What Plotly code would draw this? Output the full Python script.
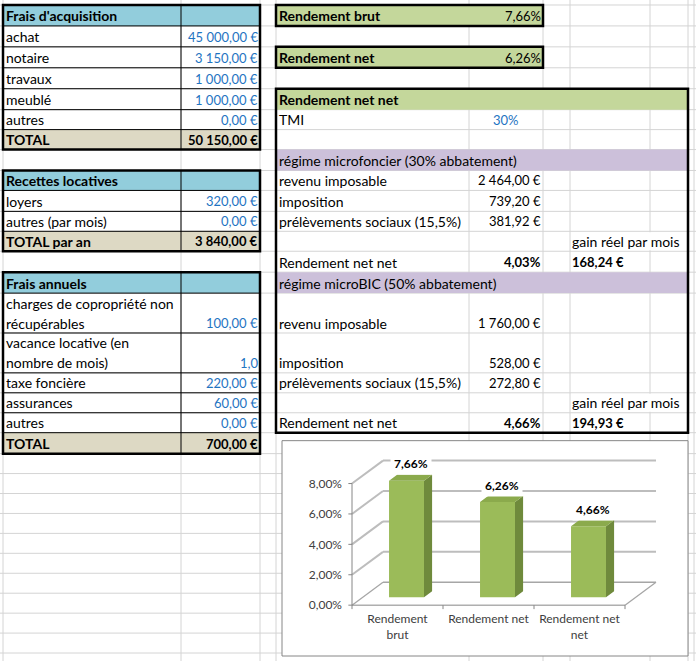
import plotly.graph_objects as go

W, H = 696, 663
FONT = "Lato"
TXT = 14
NUM = 13

# ---- valeurs de la feuille ----
ACQ_TITLE = "Frais d'acquisition"
ACQ_LABELS = ["achat", "notaire", "travaux", "meublé", "autres"]
ACQ_VALUES = [45000.00, 3150.00, 1000.00, 1000.00, 0.00]
ACQ_TOTAL = 50150.00

REC_TITLE = "Recettes locatives"
REC_LABELS = ["loyers", "autres (par mois)"]
REC_VALUES = [320.00, 0.00]
REC_TOTAL = 3840.00

ANN_TITLE = "Frais annuels"
ANN_LABELS = ["charges de copropriété non\nrécupérables", "vacance locative (en\nnombre de mois)",
              "taxe foncière", "assurances", "autres"]
ANN_VALUES = [100.00, 1.0, 220.00, 60.00, 0.00]
ANN_UNITS = ["€", "", "€", "€", "€"]
ANN_TOTAL = 700.00

TMI = 30
REGIME_LABELS = ["revenu imposable", "imposition", "prélèvements sociaux (15,5%)"]
FONCIER_VALUES = [2464.00, 739.20, 381.92]
FONCIER_NETNET = 4.03
FONCIER_GAIN = 168.24
BIC_VALUES = [1760.00, 528.00, 272.80]
BIC_GAIN = 194.93

# ---- valeurs du graphique ----
CATEGORIES = ["Rendement brut", "Rendement net", "Rendement net net"]
TICK_LABELS = ["Rendement<br>brut", "Rendement net", "Rendement net<br>net"]
RENDEMENTS = [7.66, 6.26, 4.66]
Y_TICKS = [0, 2, 4, 6, 8]

# ---- grille de la feuille (pixels) ----
COL_X = [3, 181, 260, 276, 469, 543, 570, 650, 688, 694]
ROW_Y = [5, 26, 47, 68, 89, 110, 130, 150, 171, 191, 212, 232, 252, 273, 294,
         334, 374, 394, 414, 434, 455, 475, 495, 515, 535, 555, 575, 595, 615, 635, 655]

GRID = "#D4D4D4"
BLUE_FILL = "#92CDDC"
TAN_FILL = "#DDD9C4"
GREEN_FILL = "#C4D79B"
PURPLE_FILL = "#CCC0DA"
BLUE_TXT = "#1F74C2"


def euro(v):
    return f"{v:,.2f}".replace(",", "\u00a0").replace(".", ",") + "\u00a0€"


def num(v):
    return f"{v:.1f}".replace(".", ",")


def pct(v, dec=2):
    return f"{v:.{dec}f}%".replace(".", ",")


shapes, annotations = [], []


def px(x):
    return x / W


def py(y):
    return 1 - y / H


def line(x0, y0, x1, y1, color, width=1):
    shapes.append(dict(type="line", xref="paper", yref="paper",
                       x0=px(x0), y0=py(y0), x1=px(x1), y1=py(y1),
                       line=dict(color=color, width=width), layer="below"))


def box(x0, y0, x1, y1, fill=None, color=None, width=0):
    shapes.append(dict(type="rect", xref="paper", yref="paper",
                       x0=px(x0), y0=py(y1), x1=px(x1), y1=py(y0),
                       fillcolor=fill or "rgba(0,0,0,0)",
                       line=dict(color=color or "rgba(0,0,0,0)", width=width),
                       layer="below"))


def text(s, x, y_bottom, anchor="left", bold=False, color="black", up=0, size=TXT):
    annotations.append(dict(xref="paper", yref="paper", x=px(x), y=py(y_bottom - 10 - up),
                            text=f"<b>{s}</b>" if bold else s, showarrow=False,
                            xanchor=anchor, yanchor="middle", borderpad=0, borderwidth=0,
                            font=dict(family=FONT, size=size, color=color)))


# quadrillage excel
for x in COL_X:
    line(x, 0, x, H, GRID)
for y in ROW_Y:
    line(0, y, W, y, GRID)


def left_table(r0, title, labels, values, units, total_label, total_value):
    n = len(labels)
    top, bottom = ROW_Y[r0], ROW_Y[r0 + n + 2]
    box(3, top, 260, ROW_Y[r0 + 1], BLUE_FILL)
    box(3, ROW_Y[r0 + n + 1], 260, bottom, TAN_FILL)
    for k in range(r0 + 1, r0 + n + 2):
        line(3, ROW_Y[k], 260, ROW_Y[k], "black", 1)
    line(181, top, 181, bottom, "black", 1)
    box(3, top, 260, bottom, None, "black", 2.5)
    text(title, 6, ROW_Y[r0 + 1], bold=True)
    for i, (lab, val, unit) in enumerate(zip(labels, values, units)):
        yb = ROW_Y[r0 + 2 + i]
        for j, part in enumerate(reversed(lab.split("\n"))):
            text(part, 6, yb, up=20 * j)
        text(euro(val) if unit == "€" else num(val), 258, yb, anchor="right",
             color=BLUE_TXT, size=NUM)
    text(total_label, 6, bottom, bold=True)
    text(euro(total_value), 258, bottom, anchor="right", bold=True, size=NUM)


left_table(0, ACQ_TITLE, ACQ_LABELS, ACQ_VALUES, ["€"] * 5, "TOTAL", ACQ_TOTAL)
left_table(8, REC_TITLE, REC_LABELS, REC_VALUES, ["€"] * 2, "TOTAL par an", REC_TOTAL)
left_table(13, ANN_TITLE, ANN_LABELS, ANN_VALUES, ANN_UNITS, "TOTAL", ANN_TOTAL)

# rendement brut / net
for r, lab, val in [(0, "Rendement brut", RENDEMENTS[0]), (2, "Rendement net", RENDEMENTS[1])]:
    box(276, ROW_Y[r], 543, ROW_Y[r + 1], GREEN_FILL, "black", 2.5)
    text(lab, 279, ROW_Y[r + 1], bold=True)
    text(pct(val), 541, ROW_Y[r + 1], anchor="right", size=NUM)

# rendement net net
box(276, ROW_Y[4], 688, ROW_Y[5], GREEN_FILL)
box(276, ROW_Y[7], 688, ROW_Y[8], PURPLE_FILL)
box(276, ROW_Y[13], 688, ROW_Y[14], PURPLE_FILL)
# le texte "gain réel par mois" déborde et masque le quadrillage
for r in (11, 17):
    box(571, ROW_Y[r] + 1, 687, ROW_Y[r + 1] - 1, "white")
box(276, ROW_Y[4], 688, ROW_Y[19], None, "black", 2.5)
text("Rendement net net", 279, ROW_Y[5], bold=True)
text("TMI", 279, ROW_Y[6])
text(pct(TMI, 0), 506, ROW_Y[6], anchor="center", color=BLUE_TXT, size=NUM)
text("régime microfoncier (30% abbatement)", 279, ROW_Y[8])
text("régime microBIC (50% abbatement)", 279, ROW_Y[14])
for r0, vals, netnet, gain in [(8, FONCIER_VALUES, FONCIER_NETNET, FONCIER_GAIN),
                               (14, BIC_VALUES, RENDEMENTS[2], BIC_GAIN)]:
    for i, (lab, val) in enumerate(zip(REGIME_LABELS, vals)):
        text(lab, 279, ROW_Y[r0 + 1 + i])
        text(euro(val), 541, ROW_Y[r0 + 1 + i], anchor="right", size=NUM)
    text("gain réel par mois", 572, ROW_Y[r0 + 4])
    text("Rendement net net", 279, ROW_Y[r0 + 5])
    text(pct(netnet), 541, ROW_Y[r0 + 5], anchor="right", bold=True, size=NUM)
    text(euro(gain), 572, ROW_Y[r0 + 5], bold=True, size=NUM)

# cadre du graphique
box(282, 442, 688, 658, "white", "#868686", 1)

# ---- graphique 3D simulé ----
FRONT_X0, CAT_PX = 352, 91
FRONT_Y0, PCT_PX = 607, 15.25
DEPTH_X, DEPTH_Y = 31 / CAT_PX, 23 / PCT_PX
BAR_Z, BAR_D, BAR_W = 0.35, 0.26, 35 / CAT_PX
X_LO, X_HI, Y_TOP, Y_BOT = 343, 672, 447, 612

WALL = "#BDBDBD"
AXIS = "#868686"
n = len(CATEGORIES)


def dline(x0, y0, x1, y1, color, width):
    shapes.append(dict(type="line", xref="x", yref="y", x0=x0, y0=y0, x1=x1, y1=y1,
                       line=dict(color=color, width=width), layer="below"))


for v in Y_TICKS:
    if v > 0:
        dline(0, v, DEPTH_X, v + DEPTH_Y, WALL, 2)
        dline(DEPTH_X, v + DEPTH_Y, n + DEPTH_X, v + DEPTH_Y, WALL, 2)
    dline(-0.04, v, 0, v, AXIS, 1)
dline(0, 0, DEPTH_X, DEPTH_Y, "#A6A6A6", 1.3)
dline(DEPTH_X, DEPTH_Y, n + DEPTH_X, DEPTH_Y, "#A6A6A6", 1.3)
dline(n + DEPTH_X, DEPTH_Y, n, 0, "#A6A6A6", 1.3)
dline(0, 0, n, 0, AXIS, 1)
dline(0, 0, 0, Y_TICKS[-1], AXIS, 1)
for i in range(n + 1):
    dline(i, 0, i, -0.26, AXIS, 1)

base = BAR_Z * DEPTH_Y
ddx, ddy = BAR_D * DEPTH_X, BAR_D * DEPTH_Y
centers = [i + 0.5 + BAR_Z * DEPTH_X - 0.02 for i in range(n)]

fig = go.Figure()
fig.add_trace(go.Bar(x=centers, y=RENDEMENTS, base=base, width=BAR_W,
                     marker=dict(color="#9BBB59", line=dict(width=0)),
                     hoverinfo="skip", showlegend=False))

side_x, side_y, top_x, top_y = [], [], [], []
for c, v in zip(centers, RENDEMENTS):
    left, right, top = c - BAR_W / 2, c + BAR_W / 2, base + v
    side_x += [right, right + ddx, right + ddx, right, right, None]
    side_y += [base, base + ddy, top + ddy, top, base, None]
    top_x += [left, right, right + ddx, left + ddx, left, None]
    top_y += [top, top, top + ddy, top + ddy, top, None]
    annotations.append(dict(xref="x", yref="y", x=c + ddx / 2, y=top + ddy + 11 / PCT_PX,
                            text=f"<b>{pct(v)}</b>", showarrow=False, bgcolor="white",
                            borderpad=3, font=dict(family=FONT, size=12, color="black")))

fig.add_trace(go.Scatter(x=side_x, y=side_y, mode="lines", fill="toself", fillcolor="#6F8A3C",
                         line=dict(width=0), hoverinfo="skip", showlegend=False))
fig.add_trace(go.Scatter(x=top_x, y=top_y, mode="lines", fill="toself", fillcolor="#8BAA4C",
                         line=dict(width=0), hoverinfo="skip", showlegend=False))

fig.update_layout(
    width=W, height=H,
    margin=dict(l=0, r=0, t=0, b=0),
    paper_bgcolor="white", plot_bgcolor="rgba(0,0,0,0)",
    shapes=shapes, annotations=annotations, showlegend=False,
    xaxis=dict(domain=[X_LO / W, X_HI / W],
               range=[(X_LO - FRONT_X0) / CAT_PX, (X_HI - FRONT_X0) / CAT_PX],
               showgrid=False, zeroline=False, showline=False, ticks="",
               tickvals=[i + 0.5 for i in range(n)], ticktext=TICK_LABELS,
               tickfont=dict(family=FONT, size=12, color="#404040"), fixedrange=True),
    yaxis=dict(domain=[1 - Y_BOT / H, 1 - Y_TOP / H],
               range=[(FRONT_Y0 - Y_BOT) / PCT_PX, (FRONT_Y0 - Y_TOP) / PCT_PX],
               showgrid=False, zeroline=False, showline=False, ticks="",
               tickvals=Y_TICKS, ticktext=[pct(v) for v in Y_TICKS],
               tickfont=dict(family=FONT, size=12, color="#404040"), fixedrange=True),
)

# la page a une marge de 8px par défaut
fig.write_html("out.html", config={"displayModeBar": False},
               post_script="document.body.style.margin = '0px';")
